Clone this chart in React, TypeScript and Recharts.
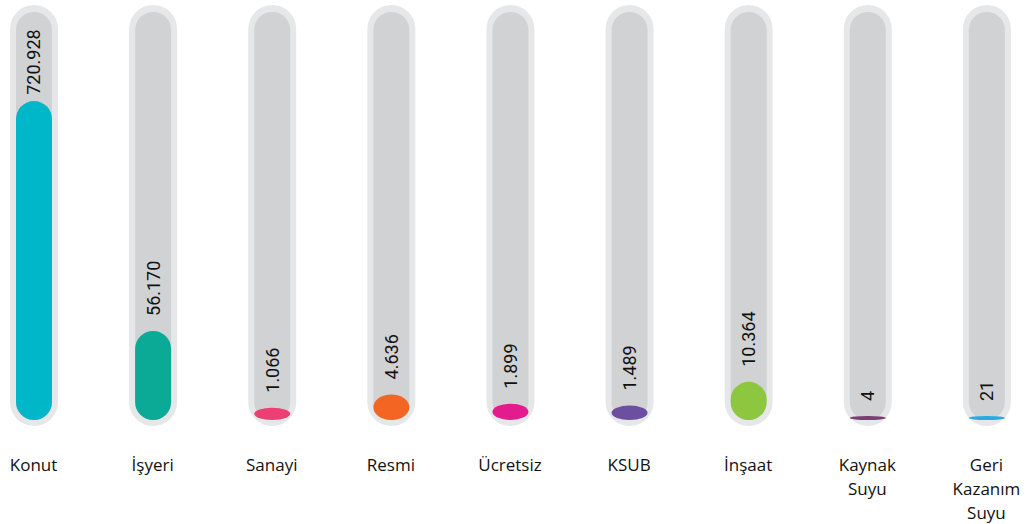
import React from 'react';
import { BarChart, Bar, XAxis, YAxis, Cell, LabelList } from 'recharts';

const categories = ['Konut', 'İşyeri', 'Sanayi', 'Resmi', 'Ücretsiz', 'KSUB', 'İnşaat', 'Kaynak Suyu', 'Geri Kazanım Suyu'];
const values = [720928, 56170, 1066, 4636, 1899, 1489, 10364, 4, 21];
const colors = ['#00b6c9', '#0aaa96', '#ee3f75', '#f26522', '#e31b8d', '#6c4fa1', '#8dc63f', '#7a3d74', '#27aae1'];

const data = categories.map((name, i) => ({ name, value: values[i] }));

const TRACK_OUTER = '#e6e7e8';
const TRACK_INNER = '#d1d2d4';
const TEXT = '#111111';

const fmt = (v: number) => String(v).replace(/\B(?=(\d{3})+(?!\d))/g, '.');

const Track = (props: any) => {
  const { x, y, width, height } = props;
  return (
    <g>
      <rect x={x - 6} y={y - 7} width={width + 12} height={height + 13} rx={(width + 12) / 2} ry={(width + 12) / 2} fill={TRACK_OUTER} />
      <rect x={x} y={y} width={width} height={height} rx={width / 2} ry={width / 2} fill={TRACK_INNER} />
    </g>
  );
};

const Fill = (props: any) => {
  const { x, y, width, height, fill } = props;
  if (!height || height <= 0) return null;
  const r = width / 2;
  return <rect x={x} y={y} width={width} height={height} rx={r} ry={Math.min(r, height / 2)} fill={fill} />;
};

const ValueLabel = (props: any) => {
  const { x, y, width, value } = props;
  const cx = x + width / 2;
  const text = fmt(Number(value));
  const fs = 18;
  const estLen = text.length * fs * 0.53;
  const ly = Math.max(y - 15, 12 + 16 + estLen);
  return (
    <text
      x={cx}
      y={ly}
      transform={`rotate(-90 ${cx} ${ly})`}
      textAnchor="start"
      dominantBaseline="central"
      fontSize={fs}
      fontFamily="Roboto, 'Liberation Sans', sans-serif"
      fill={TEXT}
    >
      {text}
    </text>
  );
};

const CategoryTick = (props: any) => {
  const { x, y, payload } = props;
  const lines = String(payload.value).split(' ');
  return (
    <text x={x} y={y + 51} textAnchor="middle" fontFamily="'Open Sans', 'Noto Sans', sans-serif" fontSize={17} fontWeight={500} fill={TEXT}>
      {lines.map((l, i) => (
        <tspan key={i} x={x} dy={i === 0 ? 0 : 24}>
          {l}
        </tspan>
      ))}
    </text>
  );
};

export default function App() {
  return (
    <div style={{ position: 'absolute', left: 0, top: 0, width: 1028, height: 524, overflow: 'hidden', background: '#fff' }}>
      <div style={{ marginLeft: -26 }}>
        <BarChart width={1072} height={524} data={data} margin={{ top: 12, right: 0, bottom: 0, left: 0 }}>
          <XAxis dataKey="name" axisLine={false} tickLine={false} tickSize={0} tickMargin={0} height={104} interval={0} tick={<CategoryTick />} />
          <YAxis hide type="number" scale="sqrt" domain={[0, 1180000]} />
          <Bar dataKey="value" barSize={36} minPointSize={4} isAnimationActive={false} background={<Track />} shape={<Fill />}>
            {data.map((d, i) => (
              <Cell key={d.name} fill={colors[i]} />
            ))}
            <LabelList dataKey="value" content={<ValueLabel />} />
          </Bar>
        </BarChart>
      </div>
    </div>
  );
}
